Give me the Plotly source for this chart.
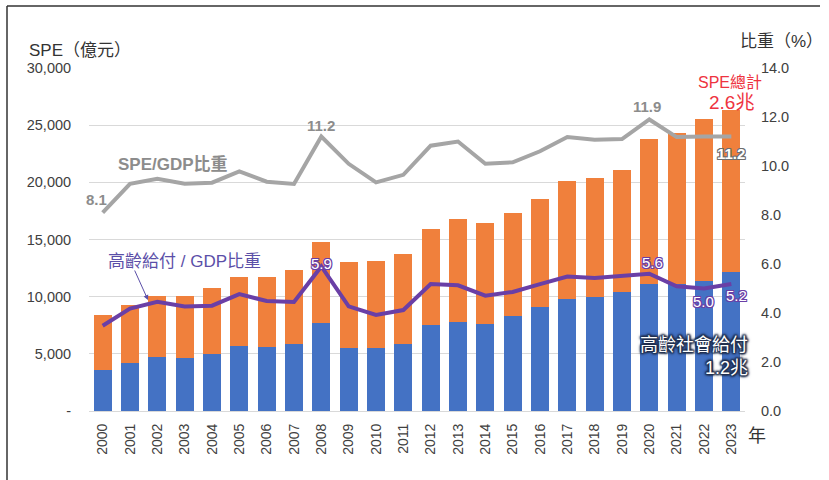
import plotly.graph_objects as go

years = [str(y) for y in range(2000, 2024)]
spe_total = [8370, 9310, 10040, 10100, 10770, 11730, 11730, 12350, 14760, 13010, 13100, 13710,
             15880, 16810, 16400, 17340, 18560, 20080, 20370, 21070, 23780, 24280, 25530, 26320]
elderly_benefit = [3620, 4170, 4690, 4670, 4990, 5720, 5570, 5890, 7700, 5480, 5480, 5890,
                   7560, 7760, 7640, 8280, 9070, 9830, 9950, 10420, 11120, 11150, 11350, 12170]
spe_gdp = [8.1, 9.27, 9.48, 9.28, 9.32, 9.78, 9.36, 9.27, 11.2, 10.09, 9.33, 9.64,
           10.83, 11.0, 10.09, 10.15, 10.6, 11.18, 11.07, 11.1, 11.9, 11.18, 11.2, 11.2]
elderly_gdp = [3.48, 4.18, 4.46, 4.27, 4.30, 4.77, 4.49, 4.45, 5.9, 4.27, 3.92, 4.12,
               5.18, 5.13, 4.71, 4.86, 5.18, 5.49, 5.43, 5.52, 5.6, 5.09, 5.0, 5.18]
other_spe = [t - e for t, e in zip(spe_total, elderly_benefit)]

left_ticks = [0, 5000, 10000, 15000, 20000, 25000, 30000]
left_ticktext = ["-", "5,000", "10,000", "15,000", "20,000", "25,000", "30,000"]

FONT = "Liberation Sans, Noto Sans CJK TC, sans-serif"
NARROW = "Liberation Sans Narrow, Liberation Sans, Noto Sans CJK TC, sans-serif"
BLUE = "#4472C4"
ORANGE = "#F0803C"
GRAY = "#A5A5A5"
GRAYTXT = "#8C8C8C"
PURPLE = "#6A3FA6"
PURPLETXT = "#5B4FA8"

# plot area in page pixels
PL, PR, PT, PB = 89, 745, 68, 411
PW, PH = PR - PL, PB - PT


def px(x):
    return (x - PL) / PW


def py(y):
    return (PB - y) / PH


def outline(c, r=1, blur=0):
    return ", ".join(f"{c} {dx}px {dy}px {blur}px" for dx, dy in
                     [(r, 0), (-r, 0), (0, r), (0, -r), (r, r), (-r, -r), (r, -r), (-r, r)])


def paper_note(x, y, text, font, xanchor="center", yanchor="middle", **kw):
    d = dict(x=px(x), y=py(y), xref="paper", yref="paper", text=text, showarrow=False,
             xanchor=xanchor, yanchor=yanchor, font=font)
    d.update(kw)
    return d


fig = go.Figure()
fig.add_trace(go.Bar(x=years, y=elderly_benefit, marker_color=BLUE, name="高齡社會給付",
                     marker_line_width=0))
fig.add_trace(go.Bar(x=years, y=other_spe, marker_color=ORANGE, name="其他",
                     marker_line_width=0))
fig.add_trace(go.Scatter(x=years, y=spe_gdp, yaxis="y2", mode="lines",
                         line=dict(color=GRAY, width=4), name="SPE/GDP比重"))
fig.add_trace(go.Scatter(x=years, y=elderly_gdp, yaxis="y2", mode="lines",
                         line=dict(color=PURPLE, width=4), name="高齡給付/GDP比重"))

ann = []
i2000, i2008, i2020, i2022, i2023 = 0, 8, 20, 22, 23
ann.append(dict(x=i2000, y=spe_gdp[i2000], yref="y2", text=f"{spe_gdp[i2000]:.1f}",
                showarrow=False, xshift=-6, yshift=13,
                font=dict(size=15, color=GRAYTXT, family=FONT, weight="bold")))
ann.append(dict(x=i2008, y=spe_gdp[i2008], yref="y2", text=f"{spe_gdp[i2008]:.1f}",
                showarrow=False, yanchor="bottom", yshift=1,
                font=dict(size=15, color=GRAYTXT, family=FONT, weight="bold")))
ann.append(dict(x=i2020, y=spe_gdp[i2020], yref="y2", text=f"{spe_gdp[i2020]:.1f}",
                showarrow=False, yanchor="bottom", yshift=2, xshift=-2,
                font=dict(size=15, color=GRAYTXT, family=FONT, weight="bold")))
ann.append(dict(x=i2023, y=spe_gdp[i2023], yref="y2", text=f"{spe_gdp[i2023]:.1f}",
                showarrow=False, yanchor="top", yshift=-6,
                font=dict(size=15, color="white", family=FONT, weight="bold",
                          shadow=outline("#6e6e6e"))))
for idx, xs, ys in [(i2008, 0, 3), (i2020, 3, 11), (i2022, -1, -13), (i2023, 5, -11)]:
    ann.append(dict(x=idx, y=elderly_gdp[idx], yref="y2", text=f"{elderly_gdp[idx]:.1f}",
                    showarrow=False, xshift=xs, yshift=ys,
                    font=dict(size=15, color="white", family=FONT,
                              shadow=outline(PURPLE))))

ann.append(paper_note(173, 164, "SPE/GDP比重",
                      dict(size=17, color=GRAYTXT, family=FONT, weight="bold")))
ann.append(paper_note(184, 261, "高齡給付 / GDP比重",
                      dict(size=17, color=PURPLETXT, family=NARROW)))
ann.append(dict(x=px(148), y=py(300), xref="paper", yref="paper",
                text="", showarrow=True, ax=-14, ay=-31, arrowhead=2, arrowsize=1,
                arrowwidth=1, arrowcolor=PURPLETXT))
ann.append(paper_note(730, 82, "SPE總計",
                      dict(size=16, color="#EE3340", family=NARROW)))
ann.append(paper_note(731, 102, "2.6兆",
                      dict(size=19, color="#EE3340", family=NARROW)))
ann.append(paper_note(750, 356, "高齡社會給付<br>1.2兆",
                      dict(size=18, color="white", family=FONT,
                           shadow=outline("#22304f", 1, 2) + ", #22304f 0px 0px 4px"),
                      xanchor="right", align="right"))

ann.append(paper_note(27, 50, "SPE（億元）",
                      dict(size=17, color="#333333", family=FONT), xanchor="left"))
ann.append(paper_note(738, 41, "比重（%）",
                      dict(size=17, color="#333333", family=FONT), xanchor="left"))
ann.append(paper_note(757, 436, "年", dict(size=18, color="#333333", family=FONT)))

shapes = [
    dict(type="line", xref="paper", yref="paper", x0=px(7), x1=px(7),
         y0=py(6), y1=py(490), line=dict(color="#333333", width=1.5)),
    dict(type="line", xref="paper", yref="paper", x0=px(7), x1=px(820),
         y0=py(6), y1=py(6), line=dict(color="#333333", width=1.5)),
]

fig.update_layout(
    width=829, height=480,
    margin=dict(l=PL, r=829 - PR, t=PT, b=480 - PB),
    barmode="stack", bargap=0.34,
    plot_bgcolor="white", paper_bgcolor="white",
    showlegend=False,
    font=dict(family=FONT, size=14, color="#404040"),
    xaxis=dict(type="category", range=[-0.5, len(years) - 0.5], tickangle=-90,
               tickfont=dict(size=14, color="#404040"),
               showline=True, linecolor="#D9D9D9", linewidth=1, ticks="outside",
               ticklen=6, tickcolor="rgba(0,0,0,0)", showgrid=False),
    yaxis=dict(range=[0, 30000], tickvals=left_ticks, ticktext=left_ticktext,
               showgrid=True, gridcolor="#D9D9D9", gridwidth=1, zeroline=False,
               tickfont=dict(size=14.5, color="#404040"), ticks="outside", ticklen=14,
               tickcolor="rgba(0,0,0,0)"),
    yaxis2=dict(range=[0, 14], dtick=2, tickformat=".1f", overlaying="y", side="right",
                showgrid=False, zeroline=False, tickfont=dict(size=14.5, color="#404040"),
                ticks="outside", ticklen=12, tickcolor="rgba(0,0,0,0)"),
    annotations=ann,
    shapes=shapes,
)

fig.write_html("out.html", config={"displayModeBar": False},
               post_script="document.body.style.margin='0';document.body.style.overflow='hidden';")
